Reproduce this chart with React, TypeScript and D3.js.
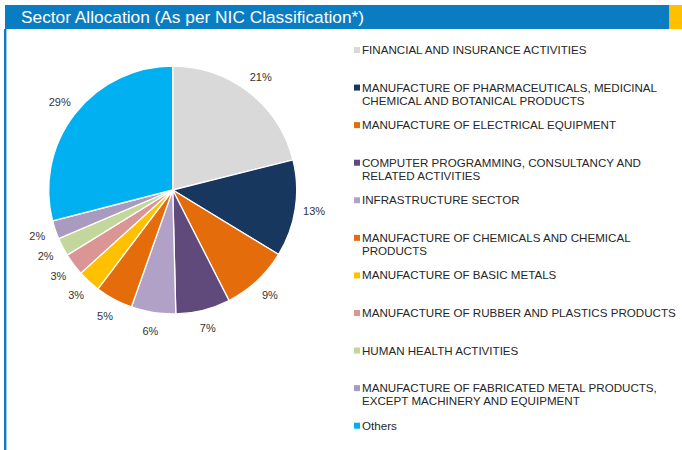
import React from "react";
import * as d3 from "d3";

const categories: string[][] = [
  ["FINANCIAL AND INSURANCE ACTIVITIES"],
  ["MANUFACTURE OF PHARMACEUTICALS, MEDICINAL", "CHEMICAL AND BOTANICAL PRODUCTS"],
  ["MANUFACTURE OF ELECTRICAL EQUIPMENT"],
  ["COMPUTER PROGRAMMING, CONSULTANCY AND", "RELATED ACTIVITIES"],
  ["INFRASTRUCTURE SECTOR"],
  ["MANUFACTURE OF CHEMICALS AND CHEMICAL", "PRODUCTS"],
  ["MANUFACTURE OF BASIC METALS"],
  ["MANUFACTURE OF RUBBER AND PLASTICS PRODUCTS"],
  ["HUMAN HEALTH ACTIVITIES"],
  ["MANUFACTURE OF FABRICATED METAL PRODUCTS,", "EXCEPT MACHINERY AND EQUIPMENT"],
  ["Others"],
];

const values: number[] = [21.1, 12.6, 8.8, 7.1, 5.8, 4.9, 3.0, 2.9, 2.4, 2.4, 29.0];

const colors: string[] = [
  "#d9d9d9",
  "#17375e",
  "#e46c0a",
  "#604a7b",
  "#b2a1c7",
  "#e46c0a",
  "#ffc000",
  "#d99694",
  "#c3d69b",
  "#a99bbf",
  "#00b0f0",
];

const title = "Sector Allocation (As per NIC Classification*)";

export default function App() {
  const W = 682;
  const H = 450;
  const cx = 172.7;
  const cy = 190;
  const r = 124;
  const labelR = 143;

  const total = d3.sum(values);
  const pie = d3.pie<number>().sort(null).value((d) => d);
  const arcs = pie(values);
  const arcGen = d3.arc<d3.PieArcDatum<number>>().innerRadius(0).outerRadius(r);
  const labelArc = d3.arc<d3.PieArcDatum<number>>().innerRadius(labelR).outerRadius(labelR);
  const fmt = d3.format(".0f");

  const legendX = 354;
  const legendY0 = 50;
  const legendStep = 37.57;
  const font = "'Liberation Sans', Arial, sans-serif";

  return (
    <svg
      width={W}
      height={H}
      style={{ position: "absolute", left: 0, top: 0, background: "#fff" }}
    >
      <rect x={5} y={5} width={664.5} height={24} fill="#0a7cc2" />
      <rect x={669.5} y={5} width={12.5} height={24} fill="#ffc000" />
      <rect x={4} y={29} width={2.4} height={H - 29} fill="#0a7cc2" />
      <text
        x={21}
        y={23}
        fill="#fff"
        fontFamily={font}
        fontSize={16}
        textLength={343}
        lengthAdjust="spacingAndGlyphs"
      >
        {title}
      </text>

      <g transform={`translate(${cx},${cy})`}>
        {arcs.map((a, i) => (
          <path key={i} d={arcGen(a) || ""} fill={colors[i]} stroke="#fff" strokeWidth={1.3} />
        ))}
        {arcs.map((a, i) => {
          const [x, y] = labelArc.centroid(a);
          return (
            <text
              key={"l" + i}
              x={x}
              y={y}
              dy="0.35em"
              textAnchor="middle"
              fontFamily={font}
              fontSize={11}
              fill="#333"
            >
              {fmt((a.data / total) * 100) + "%"}
            </text>
          );
        })}
      </g>

      <g>
        {categories.map((lines, i) => {
          const y = legendY0 + i * legendStep;
          return (
            <g key={"lg" + i}>
              <rect x={legendX} y={y - 3} width={6} height={6} fill={colors[i]} />
              {lines.map((ln, j) => (
                <text
                  key={j}
                  x={legendX + 8}
                  y={y + j * 13}
                  dy="0.35em"
                  fontFamily={font}
                  fontSize={11.6}
                  fill="#262626"
                >
                  {ln}
                </text>
              ))}
            </g>
          );
        })}
      </g>
    </svg>
  );
}
